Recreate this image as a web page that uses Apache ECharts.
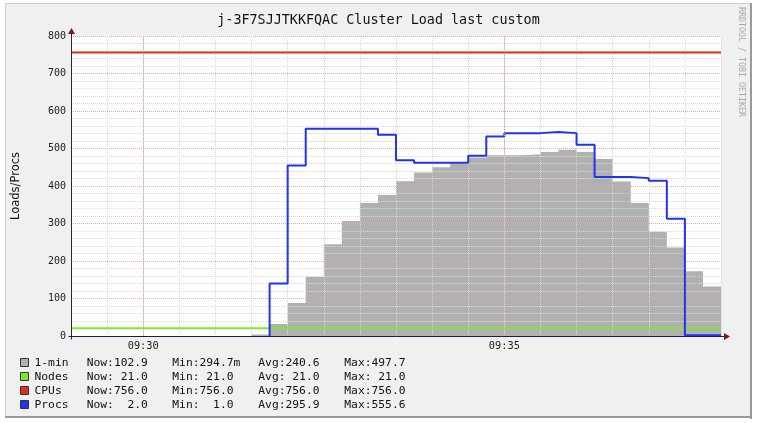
<!DOCTYPE html>
<html><head><meta charset="utf-8">
<script src="https://cdn.jsdelivr.net/npm/echarts@6/dist/echarts.min.js"></script>
<style>html,body{margin:0;padding:0;background:#fff;}#c{width:757px;height:423px;}</style>
</head><body><div id="c"></div>
<script>
// ---- data ----
const chartTitle = 'j-3F7SJJTKKFQAC Cluster Load last custom';
const yAxisTitle = 'Loads/Procs';
const watermark = 'RRDTOOL / TOBI OETIKER';
const axisStartSec = 0;    // 09:29:00
const axisEndSec = 540;    // 09:38:00
const xLabelSeconds = [60, 360];
const xLabelText = ['09:30', '09:35'];
const yMin = 0, yMax = 800, yMajor = 100;
const sampleStepSec = 15;
const loadStartSec = 150;   // 09:31:30
const load1 = [4, 32, 88, 158, 245, 307, 355, 376, 413, 436, 450, 460, 476, 482, 482, 485, 491, 497, 491, 472, 412, 355, 278, 236, 173, 132];
const procsStartSec = 165;  // 09:31:45
const procsRiseFrom = 0;
const procs = [140, 455, 553, 553, 553, 553, 537, 469, 462, 462, 462, 481, 532, 541, 541, 544, 541, 510, 424, 424, 421, 414, 313, 2, 2];
const nodesValue = 21;
const cpusValue = 756;
const legendNames = ['1-min', 'Nodes', 'CPUs', 'Procs'];
const legendNow = ['Now:102.9', 'Now: 21.0', 'Now:756.0', 'Now:  2.0'];
const legendMin = ['Min:294.7m', 'Min: 21.0', 'Min:756.0', 'Min:  1.0'];
const legendAvg = ['Avg:240.6', 'Avg: 21.0', 'Avg:756.0', 'Avg:295.9'];
const legendMax = ['Max:497.7', 'Max: 21.0', 'Max:756.0', 'Max:555.6'];
const seriesColors = ['#b0b0b0', '#7fe82a', '#dc3318', '#1f34ee'];

// ---- build ----
function stepData(start, vals) {
  const d = vals.map((v, i) => [start + i * sampleStepSec, v]);
  d.push([start + vals.length * sampleStepSec, vals[vals.length - 1]]);
  return d;
}
function flatData(v) { return [[axisStartSec, v], [axisEndSec, v]]; }
const procsData = [[procsStartSec, procsRiseFrom]].concat(stepData(procsStartSec, procs));

const MONO = '"DejaVu Sans Mono", monospace';
const MINOR = '#d8d8d8', MAJOR = '#eaa2a2';
const chart = echarts.init(document.getElementById('c'), null, {renderer: 'canvas'});

const option = {
  animation: false,
  backgroundColor: 'transparent',
  title: {
    text: chartTitle, left: 'center', top: 9,
    textStyle: {fontFamily: MONO, fontSize: 13.4, fontWeight: 'normal', color: '#111'}
  },
  grid: {left: 71, right: 36, top: 36, bottom: 87, show: true, backgroundColor: '#ffffff', borderWidth: 0, z: 0},
  xAxis: {
    type: 'value', min: axisStartSec, max: axisEndSec, interval: 30, z: 2,
    axisLine: {show: false}, axisTick: {show: false},
    splitLine: {show: true, lineStyle: {color: MINOR, type: 'dotted', width: 1}},
    axisLabel: {
      interval: 0, showMinLabel: false, showMaxLabel: false, margin: 5,
      fontFamily: MONO, fontSize: 10.3, color: '#222',
      formatter: v => { const i = xLabelSeconds.indexOf(v); return i >= 0 ? xLabelText[i] : ''; }
    }
  },
  yAxis: {
    type: 'value', min: yMin, max: yMax, interval: yMajor, z: 2,
    axisLine: {show: false}, axisTick: {show: false},
    splitLine: {show: true, lineStyle: {color: MAJOR, type: 'dotted', width: 1}},
    minorTick: {show: false, splitNumber: 5},
    minorSplitLine: {show: true, lineStyle: {color: MINOR, type: 'dotted', width: 1}},
    axisLabel: {margin: 5, fontFamily: MONO, fontSize: 10, color: '#222'}
  },
  series: [
    {name: legendNames[0], type: 'line', step: 'end', data: stepData(loadStartSec, load1), symbol: 'none', z: 1,
      lineStyle: {width: 0}, areaStyle: {color: seriesColors[0], opacity: 1}},
    {name: 'majorX', type: 'line', data: [], z: 2.5, silent: true,
      markLine: {silent: true, symbol: ['none', 'none'], label: {show: false}, animation: false,
        lineStyle: {color: MAJOR, type: 'dotted', width: 1},
        data: xLabelSeconds.map(v => ({xAxis: v}))}},
    {name: legendNames[1], type: 'line', data: flatData(nodesValue), symbol: 'none', z: 3,
      lineStyle: {color: seriesColors[1], width: 2}},
    {name: legendNames[2], type: 'line', data: flatData(cpusValue), symbol: 'none', z: 3,
      lineStyle: {color: seriesColors[2], width: 2}},
    {name: legendNames[3], type: 'line', step: 'end', data: procsData, symbol: 'none', z: 3,
      lineStyle: {color: seriesColors[3], width: 2}}
  ]
};
chart.setOption(option);

// decorations computed from axis scale
const o = chart.convertToPixel({gridIndex: 0}, [axisStartSec, yMin]);
const t = chart.convertToPixel({gridIndex: 0}, [axisStartSec, yMax]);
const r = chart.convertToPixel({gridIndex: 0}, [axisEndSec, yMin]);
const ox = Math.round(o[0]) + 0.5, oy = Math.round(o[1]) + 0.5;
const AX = '#2b2b2b', AXX = '#1c1c4c', AR = '#7a1c1c';

const g = [];
// frame
g.push({type: 'rect', z: -10, silent: true, shape: {x: 5, y: 3, width: 746, height: 414}, style: {fill: '#f0f0f0'}});
g.push({type: 'line', z: -9, shape: {x1: 5, y1: 3.5, x2: 751, y2: 3.5}, style: {stroke: '#cfcfcf', lineWidth: 1}});
g.push({type: 'line', z: -9, shape: {x1: 5.5, y1: 3, x2: 5.5, y2: 418}, style: {stroke: '#cfcfcf', lineWidth: 1}});
g.push({type: 'line', z: -9, shape: {x1: 751, y1: 3, x2: 751, y2: 419}, style: {stroke: '#9a9a9a', lineWidth: 2}});
g.push({type: 'line', z: -9, shape: {x1: 5, y1: 417, x2: 752, y2: 417}, style: {stroke: '#9a9a9a', lineWidth: 2}});
// axes
g.push({type: 'line', z: 4, shape: {x1: ox, y1: oy + 3, x2: ox, y2: t[1] - 4}, style: {stroke: AX, lineWidth: 1}});
g.push({type: 'line', z: 4, shape: {x1: ox - 3, y1: oy, x2: r[0] + 4, y2: oy}, style: {stroke: AXX, lineWidth: 1}});
g.push({type: 'polygon', z: 4, shape: {points: [[ox, t[1] - 8], [ox - 3.5, t[1] - 2], [ox + 3.5, t[1] - 2]]}, style: {fill: AR}});
g.push({type: 'polygon', z: 4, shape: {points: [[r[0] + 9, oy], [r[0] + 3, oy - 3.5], [r[0] + 3, oy + 3.5]]}, style: {fill: AR}});
// y axis title
g.push({type: 'text', z: 5, x: 16, y: (o[1] + t[1]) / 2, rotation: Math.PI / 2,
  style: {text: yAxisTitle, fontFamily: '"DejaVu Sans", sans-serif', fontSize: 11.5, fill: '#111', align: 'center', verticalAlign: 'middle'}});
// watermark
g.push({type: 'text', z: 5, x: 741.5, y: 7, rotation: -Math.PI / 2,
  style: {text: watermark, fontFamily: MONO, fontSize: 8.3, fill: '#a8a8a8', align: 'left', verticalAlign: 'middle'}});
// legend
const rowY0 = 363, rowStep = 14;
const cols = [[34.5, legendNames], [86.7, legendNow], [172.3, legendMin], [258.3, legendAvg], [344.3, legendMax]];
for (let i = 0; i < legendNames.length; i++) {
  const y = rowY0 + i * rowStep;
  g.push({type: 'rect', z: 5, shape: {x: 20.5, y: y - 4.5, width: 8, height: 8},
    style: {fill: seriesColors[i], stroke: '#333', lineWidth: 1}});
  cols.forEach(([x, arr]) => {
    g.push({type: 'text', z: 5, x: x, y: y,
      style: {text: arr[i], fontFamily: MONO, fontSize: 11.3, fill: '#111', align: 'left', verticalAlign: 'middle'}});
  });
}
chart.setOption({graphic: {elements: g}});
</script></body></html>
